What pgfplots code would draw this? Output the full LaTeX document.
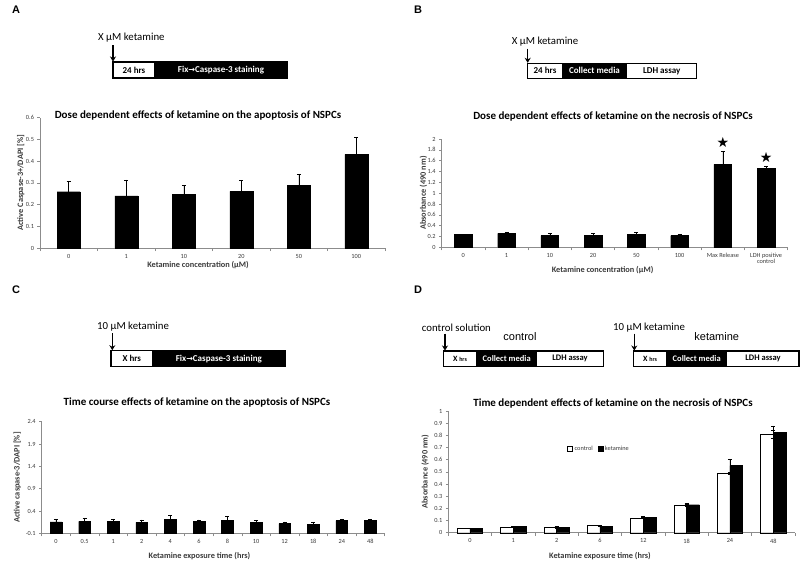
\documentclass[border=0pt]{standalone}
\usepackage{pgfplots}
\pgfplotsset{compat=1.18}
\usepackage{fontspec}
\setmainfont{Carlito}
\newfontfamily\arial{Liberation Sans}
\newfontfamily\dejavu{DejaVu Sans}
\usetikzlibrary{arrows.meta}
\definecolor{axgray}{HTML}{8C8C8C}
\definecolor{txgray}{HTML}{3A3A3A}
\newcommand{\fs}[1]{\fontsize{#1}{#1}\selectfont}

\pgfplotsset{
  exstyle/.style={
    scale only axis,
    axis lines*=left,
    axis line style={axgray, line width=0.6pt},
    tick align=outside,
    /pgf/number format/assume math mode=true,
    ticklabel style={font=\fs{6.3}, text=txgray},
    major tick length=2.5pt,
    minor tick length=3pt,
    tick style={axgray, line width=0.5pt},
    major x tick style={draw=none},
    label style={font=\bfseries\fs{8.3}, text=txgray},
    xlabel style={anchor=center},
    ylabel style={anchor=center},
    clip=false,
  },
  barstyle/.style={ybar, bar width=#1, fill=black, draw=black,
    error bars/y dir=plus, error bars/y explicit,
    error bars/error bar style={black, line width=0.5pt}},
}

\begin{document}
\begin{tikzpicture}
\useasboundingbox (0,0) rectangle (800pt,-565pt);

% ---------------- Panel A ----------------
\begin{axis}[exstyle, at={(40pt,-248pt)}, anchor=south west,
  width=345pt, height=130.4pt,
  xmin=-0.5, xmax=5.5, ymin=0, ymax=0.6,
  ytick={0,0.1,0.2,0.3,0.4,0.5,0.6},
  xtick={0,1,2,3,4,5}, xticklabels={0,1,10,20,50,100},
  minor xtick={-0.5,0.5,1.5,2.5,3.5,4.5,5.5},
  xlabel={Ketamine concentration (μM)},
  ylabel={Active Caspase-3+/DAPI [\%]},
  xlabel style={at={(axis description cs:0.458,-0.13)}},
  ylabel style={at={(axis description cs:-0.056,0.5)}},
]
\addplot[barstyle=23pt] table[x=x,y=y,y error=e]{
x y e
0 0.259 0.049
1 0.240 0.073
2 0.247 0.040
3 0.261 0.049
4 0.288 0.051
5 0.431 0.078
};
\end{axis}

% ---------------- Panel B ----------------
\begin{axis}[exstyle, at={(441.7pt,-247.3pt)}, anchor=south west,
  width=346pt, height=108.3pt,
  xmin=-0.5, xmax=7.5, ymin=0, ymax=2,
  ytick={0,0.2,0.4,0.6,0.8,1,1.2,1.4,1.6,1.8,2},
  xtick={0,1,2,3,4,5,6,7},
  xticklabels={0,1,10,20,50,100,Max Release,{LDH positive\\control}},
  xticklabel style={align=center},
  minor xtick={-0.5,0.5,1.5,2.5,3.5,4.5,5.5,6.5,7.5},
  xlabel={Ketamine concentration (μM)},
  ylabel={Absorbance (490 nm)},
  xlabel style={at={(axis description cs:0.465,-0.21)}},
  ylabel style={at={(axis description cs:-0.053,0.5)}},
]
\addplot[barstyle=17.7pt] table[x=x,y=y,y error=e]{
x y e
0 0.233 0.010
1 0.255 0.022
2 0.215 0.050
3 0.225 0.030
4 0.245 0.025
5 0.215 0.030
6 1.530 0.240
7 1.460 0.040
};
\addplot[only marks, mark=text, text mark={\dejavu\fs{14}★}]
  coordinates {(6,1.93) (7,1.655)};
\end{axis}

% ---------------- Panel C ----------------
\begin{axis}[exstyle, at={(41.7pt,-533.3pt)}, anchor=south west,
  width=343pt, height=111.6pt,
  xmin=-0.5, xmax=11.5, ymin=0, ymax=2.5,
  ytick={0,0.5,1,1.5,2,2.5},
  yticklabels={-0.1,0.4,0.9,1.4,1.9,2.4},
  xtick={0,1,2,3,4,5,6,7,8,9,10,11},
  xticklabels={0,0.5,1,2,4,6,8,10,12,18,24,48},
  minor xtick={-0.5,0.5,1.5,2.5,3.5,4.5,5.5,6.5,7.5,8.5,9.5,10.5,11.5},
  xlabel={Ketamine exposure time (hrs)},
  ylabel={Active caspase-3/DAPI [\%]},
  xlabel style={at={(axis description cs:0.46,-0.20)}},
  ylabel style={at={(axis description cs:-0.071,0.5)}},
]
% values as read; drawn from the -0.1 baseline
\addplot[barstyle=11.7pt] table[x=x,y expr=\thisrow{y}+0.1,y error=e]{
x y e
0 0.154 0.072
1 0.168 0.080
2 0.161 0.065
3 0.146 0.058
4 0.219 0.080
5 0.161 0.043
6 0.190 0.087
7 0.139 0.050
8 0.117 0.043
9 0.096 0.043
10 0.183 0.036
11 0.190 0.022
};
\end{axis}

% ---------------- Panel D ----------------
\begin{axis}[exstyle, at={(448.3pt,-532.7pt)}, anchor=south west,
  width=346.7pt, height=121.7pt,
  xmin=-0.5, xmax=7.5, ymin=0, ymax=1,
  ytick={0,0.1,0.2,0.3,0.4,0.5,0.6,0.7,0.8,0.9,1},
  xtick={0,1,2,3,4,5,6,7},
  xticklabels={0,1,2,6,12,18,24,48},
  minor xtick={-0.5,0.5,1.5,2.5,3.5,4.5,5.5,6.5,7.5},
  xlabel={Ketamine exposure time (hrs)},
  ylabel={Absorbance (490 nm)},
  xlabel style={at={(axis description cs:0.4375,-0.189)}},
  ylabel style={at={(axis description cs:-0.067,0.5)}},
  legend image code/.code={\draw[#1] (0pt,-2.4pt) rectangle (4.8pt,2.4pt);},
  legend style={at={(axis description cs:0.343,0.688)}, anchor=west,
    draw=none, fill=none, font=\fs{6.3}, text=txgray, legend columns=2,
    /tikz/every even column/.append style={column sep=3pt},
    inner sep=0pt},
]
\addplot[ybar, bar width=12.7pt, bar shift=-6.35pt, fill=white, draw=black,
  error bars/y dir=both, error bars/y explicit,
  error bars/error bar style={black, line width=0.5pt}]
  table[x=x,y=y,y error=e]{
x y e
0 0.036 0.002
1 0.049 0.002
2 0.049 0.002
3 0.058 0.002
4 0.118 0.002
5 0.227 0.012
6 0.488 0.008
7 0.811 0.033
};
\addlegendentry{control}
\addplot[ybar, bar width=12.7pt, bar shift=6.35pt, fill=black, draw=black,
  error bars/y dir=both, error bars/y explicit,
  error bars/error bar style={black, line width=0.5pt}]
  table[x=x,y=y,y error=e]{
x y e
0 0.036 0.002
1 0.052 0.002
2 0.044 0.003
3 0.052 0.002
4 0.129 0.004
5 0.230 0.004
6 0.551 0.055
7 0.825 0.052
};
\addlegendentry{ketamine}
\end{axis}

% ---------------- schematics and titles ----------------
\begin{scope}[x=1pt,y=-1pt]
\tikzset{boxline/.style={line width=1.1pt},
  arr/.style={-{Stealth[length=5pt,width=6pt]}, line width=1.1pt},
  bt/.style={font=\bfseries\fs{9}},
  tt/.style={font=\bfseries\fs{11}},
  st/.style={anchor=west, font=\fs{10.8}, inner sep=0pt}}

% letters
\node[font=\arial\bfseries\fs{11}] at (16,10) {A};
\node[font=\arial\bfseries\fs{11}] at (418,10) {B};
\node[font=\arial\bfseries\fs{11}] at (16,290) {C};
\node[font=\arial\bfseries\fs{11}] at (418,290) {D};

% A
\node[st] at (98,38) {X μM ketamine};
\draw[arr] (113,45) -- (113,61.5);
\draw[boxline, fill=white] (113,62) rectangle (155,78);
\draw[boxline, fill=black] (155,62) rectangle (287,78);
\node[bt] at (134,70) {24 hrs};
\node[bt, text=white] at (221,70) {Fix{\dejavu\fs{8}→}Caspase-3 staining};
\node[tt] at (198,115) {Dose dependent effects of ketamine on the apoptosis of NSPCs};

% B
\node[st] at (511.7,41.7) {X μM ketamine};
\draw[arr] (527.7,48.5) -- (527.7,62.8);
\draw[boxline, fill=white] (527.7,63.3) rectangle (562.3,78.3);
\draw[boxline, fill=black] (562.3,63.3) rectangle (626.7,78.3);
\draw[boxline, fill=white] (626.7,63.3) rectangle (696.7,78.3);
\node[bt] at (545,70.8) {24 hrs};
\node[bt, text=white] at (594.5,70.8) {Collect media};
\node[bt] at (661.7,70.8) {LDH assay};
\node[tt] at (613,116) {Dose dependent effects of ketamine on the necrosis of NSPCs};

% C
\node[st] at (97,326.7) {10 μM ketamine};
\draw[arr] (112.3,333) -- (112.3,350.2);
\draw[boxline, fill=white] (111,350.7) rectangle (152.7,366.7);
\draw[boxline, fill=black] (152.7,350.7) rectangle (285,366.7);
\node[bt] at (131.8,358.7) {X hrs};
\node[bt, text=white] at (218.8,358.7) {Fix{\dejavu\fs{8}→}Caspase-3 staining};
\node[tt] at (197,402.7) {Time course effects of ketamine on the apoptosis of NSPCs};

% D
\node[st] at (421.7,327.7) {control solution};
\node[font=\arial\fs{11}] at (520,336.7) {control};
\draw[arr] (445,333.5) -- (445,350.5);
\draw[boxline, fill=white] (443.3,351) rectangle (476.7,366.7);
\draw[boxline, fill=black] (476.7,351) rectangle (536.7,366.7);
\draw[boxline, fill=white] (536.7,351) rectangle (603.3,366.7);
\node[font=\bfseries] at (460,358.8) {\fs{8}X \fs{6}hrs};
\node[text=white, font=\bfseries\fs{8.5}] at (506.7,358.8) {Collect media};
\node[font=\bfseries\fs{8.5}] at (570,358.8) {LDH assay};

\node[st] at (613,327.7) {10 μM ketamine};
\node[font=\arial\fs{11}] at (716.7,336.7) {ketamine};
\draw[arr] (634.3,333.5) -- (634.3,350.5);
\draw[boxline, fill=white] (633.3,351) rectangle (666.7,366.7);
\draw[boxline, fill=black] (666.7,351) rectangle (726.7,366.7);
\draw[boxline, fill=white] (726.7,351) rectangle (799,366.7);
\node[font=\bfseries] at (650,358.8) {\fs{8}X \fs{6}hrs};
\node[text=white, font=\bfseries\fs{8.5}] at (696.7,358.8) {Collect media};
\node[font=\bfseries\fs{8.5}] at (763,358.8) {LDH assay};
\node[tt] at (613,403.3) {Time dependent effects of ketamine on the necrosis of NSPCs};
\end{scope}
\end{tikzpicture}
\end{document}
